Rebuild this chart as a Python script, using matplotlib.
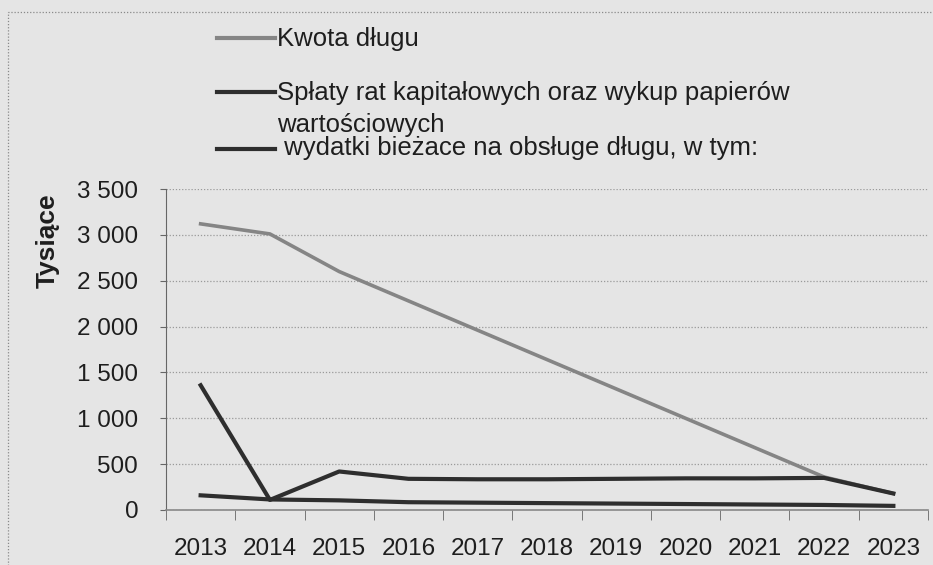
import matplotlib
matplotlib.use("Agg")
import matplotlib.pyplot as plt
from matplotlib.lines import Line2D
from matplotlib.patches import Rectangle
from matplotlib.ticker import FuncFormatter, FixedLocator

# data (thousands)
years = ['2013', '2014', '2015', '2016', '2017', '2018', '2019', '2020', '2021', '2022', '2023']
kwota_dlugu = [3120, 3010, 2600, 2280, 1960, 1640, 1320, 1000, 680, 360, 180]
splaty_rat = [1360, 110, 420, 340, 335, 335, 340, 345, 345, 350, 180]
wydatki_biezace = [160, 115, 105, 85, 80, 75, 70, 65, 60, 55, 45]

labels = ['Kwota długu',
          'Spłaty rat kapitałowych oraz wykup papierów',
          ' wydatki bieżace na obsługe długu, w tym:']
label_wrap = 'wartościowych'

BG = '#e5e5e5'
GRAY_LINE = '#858585'
DARK_LINE = '#2e2e2e'
TEXT = '#1e1e1e'

plt.rcParams['font.family'] = ['Liberation Sans', 'DejaVu Sans']

W, H = 933.0, 565.0
fig = plt.figure(figsize=(W / 100, H / 100), dpi=100)
fig.patch.set_facecolor(BG)

ax = fig.add_axes([166 / W, 1 - 510 / H, 762 / W, 321 / H])
ax.set_facecolor(BG)

x = list(range(len(years)))
ax.plot(x, kwota_dlugu, color=GRAY_LINE, lw=2.6, zorder=3)
ax.plot(x, splaty_rat, color=DARK_LINE, lw=3.0, zorder=4)
ax.plot(x, wydatki_biezace, color=DARK_LINE, lw=3.0, zorder=4)

ax.set_xlim(-0.5, len(years) - 0.5)
ax.set_ylim(0, 3500)
ax.set_yticks(range(0, 3501, 500))
ax.yaxis.set_major_formatter(FuncFormatter(lambda v, p: f'{int(v):,}'.replace(',', ' ')))
ax.set_xticks(x)
ax.set_xticklabels(years)
ax.xaxis.set_minor_locator(FixedLocator([i - 0.5 for i in range(len(years) + 1)]))
ax.tick_params(axis='x', which='major', length=0, pad=20, labelsize=17.5, colors=TEXT)
ax.tick_params(axis='x', which='minor', length=7, color='#666666')
ax.tick_params(axis='y', length=4, pad=16, labelsize=17.5, colors=TEXT, color='#666666')

ax.grid(axis='y', color='#9a9a9a', lw=0.9, linestyle=(0, (1, 1.5)))
ax.set_axisbelow(True)
for side in ['top', 'right']:
    ax.spines[side].set_visible(False)
ax.spines['left'].set_color('#666666')
ax.spines['left'].set_linestyle((0, (1, 1)))
ax.spines['bottom'].set_color('#888888')
ax.spines['bottom'].set_linewidth(1.2)

ax.set_ylabel('Tysiące', fontsize=19, fontweight='bold', color=TEXT)
ax.yaxis.set_label_coords((60 - 166) / 762, (510 - 241) / 321)

# legend drawn at the top of the chart area
line_y = [38, 92, 149]
text_base = [46, 100, 155]
legend_colors = [GRAY_LINE, DARK_LINE, DARK_LINE]
for ly, tb, lab, col in zip(line_y, text_base, labels, legend_colors):
    fig.add_artist(Line2D([217 / W, 275 / W], [1 - ly / H, 1 - ly / H],
                          color=col, lw=3.0, transform=fig.transFigure))
    fig.text(277 / W, 1 - tb / H, lab, fontsize=18.5, color=TEXT,
             va='baseline', ha='left')
fig.text(277 / W, 1 - 132 / H, label_wrap, fontsize=18.5, color=TEXT,
         va='baseline', ha='left')

# dotted chart border
fig.add_artist(Rectangle((8 / W, -0.1), 1.2, 1 - 12 / H + 0.1, transform=fig.transFigure,
                         fill=False, ec='#8a8a8a', lw=0.9, linestyle=(0, (1, 1.5))))

fig.savefig('out.png', dpi=100, facecolor=BG)
